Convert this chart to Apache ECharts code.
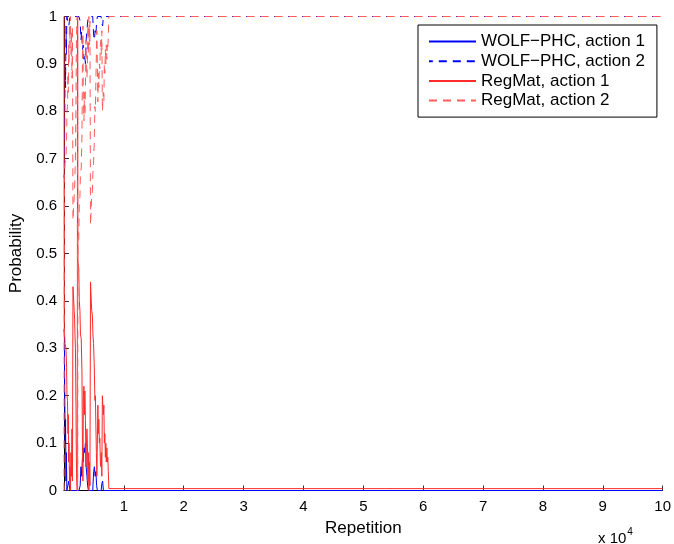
<!DOCTYPE html>
<html>
<head>
<meta charset="utf-8">
<script src="https://cdn.jsdelivr.net/npm/echarts@6/dist/echarts.min.js"></script>
<style>
html,body{margin:0;padding:0;background:#fff;}
#c{width:674px;height:544px;}
</style>
</head>
<body>
<div id="c"></div>
<script>
// x tick labels (×10^4)
var xTickLabels = ['', '1', '2', '3', '4', '5', '6', '7', '8', '9', '10'];
var seriesNames = ['WOLF\u2212PHC, action 1', 'WOLF\u2212PHC, action 2', 'RegMat, action 1', 'RegMat, action 2'];

// WOLF-PHC (repetition, probability)
var wolfX = [0,60,130,200,260,330,400,480,700,800,900,1000,2500,2700,2830,2950,3080,3200,3330,3450,3580,3700,3830,3950,4080,4800,4950,5080,5200,5330,5450,5580,6200,6330,6450,6580,100000];
var wolfA1 = [0.34,0.33,0.20,0.10,0.15,0.02,0.08,0.0,0.0,0.02,0.01,0.0,0.0,0.01,0.05,0.03,0.07,0.06,0.09,0.08,0.10,0.05,0.03,0.01,0.0,0.0,0.04,0.05,0.03,0.04,0.01,0.0,0.0,0.015,0.02,0.0,0.0];
var wolfA2 = [0.66,0.67,0.80,0.90,0.85,0.98,0.92,1.0,1.0,0.98,0.99,1.0,1.0,0.99,0.95,0.97,0.93,0.94,0.91,0.92,0.90,0.95,0.97,0.99,1.0,1.0,0.96,0.95,0.97,0.96,0.99,1.0,1.0,0.985,0.98,1.0,1.0];

// RegMat (repetition, probability)
var regX = [0,50,170,330,430,500,580,670,720,780,830,920,1000,1080,1160,1250,1330,1410,1500,1620,1700,1780,1830,1910,2000,2060,2130,2210,2280,2330,2460,2550,2660,2750,2880,3000,3080,3160,3240,3330,3410,3490,3580,3660,3740,3830,3910,3990,4080,4160,4240,4330,4430,4540,4620,4740,4830,4940,5040,5160,5240,5320,5410,5490,5570,5660,5740,5820,5910,5990,6070,6160,6240,6320,6410,6490,6570,6660,6740,6820,6910,6990,7070,7160,7240,7320,7400,7500,100000];
var regA1 = [1.0,0.34,0.31,0.30,0.26,0.20,0.19,0.12,0.16,0.06,0.10,0.02,0.05,0.0,0.08,0.03,0.13,0.02,0.43,0.43,0.38,0.36,0.33,0.30,0.18,0.07,0.02,0.0,1.0,0.48,0.47,0.40,0.38,0.33,0.32,0.25,0.10,0.02,0.20,0.22,0.16,0.21,0.15,0.05,0.09,0.13,0.10,0.02,0.08,0.0,0.06,0.01,0.44,0.44,0.38,0.37,0.33,0.31,0.27,0.19,0.20,0.14,0.08,0.03,0.10,0.18,0.12,0.15,0.10,0.11,0.06,0.05,0.08,0.03,0.20,0.20,0.16,0.18,0.10,0.12,0.07,0.10,0.06,0.09,0.06,0.07,0.04,0.004,0.004];
var regA2 = [0.0,0.66,0.69,0.70,0.74,0.80,0.81,0.88,0.84,0.94,0.90,0.98,0.95,1.0,0.92,0.97,0.87,0.98,0.57,0.57,0.62,0.64,0.67,0.70,0.82,0.93,0.98,1.0,0.0,0.52,0.53,0.60,0.62,0.67,0.68,0.75,0.90,0.98,0.80,0.78,0.84,0.79,0.85,0.95,0.91,0.87,0.90,0.98,0.92,1.0,0.94,0.99,0.56,0.56,0.62,0.63,0.67,0.69,0.73,0.81,0.80,0.86,0.92,0.97,0.90,0.82,0.88,0.85,0.90,0.89,0.94,0.95,0.92,0.97,0.80,0.80,0.84,0.82,0.90,0.88,0.93,0.90,0.94,0.91,0.94,0.93,0.96,1.0,1.0];

function pairs(xs, ys) {
  var out = [];
  for (var i = 0; i < xs.length; i++) out.push([xs[i], ys[i]]);
  return out;
}

var FONT = '"Liberation Sans", Arial, Helvetica, sans-serif';
var DASH = [8, 6];
var chart = echarts.init(document.getElementById('c'), null, {renderer: 'canvas'});

function lineSeries(name, data, color, dashed) {
  return {
    name: name,
    type: 'line',
    data: data,
    showSymbol: false,
    symbol: 'none',
    animation: false,
    clip: true,
    lineStyle: {color: color, width: 1, type: dashed ? DASH : 'solid', dashOffset: 0},
    itemStyle: {color: color}
  };
}

chart.setOption({
  animation: false,
  backgroundColor: '#ffffff',
  grid: {left: 64, right: 9, top: 16.5, bottom: 53.5, containLabel: false},
  legend: {
    orient: 'vertical',
    left: 418,
    top: 25,
    padding: [8, 12, 8, 10],
    itemWidth: 47,
    itemHeight: 17,
    itemGap: 2.7,
    itemTextGap: 4,
    itemStyle: {opacity: 0},
    backgroundColor: '#ffffff',
    borderColor: '#000000',
    borderWidth: 1,
    textStyle: {color: '#000', fontSize: 17, fontFamily: FONT},
    data: seriesNames.map(function (n) { return {name: n}; })
  },
  xAxis: {
    type: 'value',
    min: 0,
    max: 100000,
    interval: 10000,
    name: 'Repetition',
    nameLocation: 'middle',
    nameGap: 27,
    nameTextStyle: {color: '#000', fontSize: 17, fontFamily: FONT},
    axisLine: {show: true, onZero: false, lineStyle: {color: '#000', width: 1}},
    axisTick: {show: true, inside: true, length: 5, lineStyle: {color: '#333'}},
    axisLabel: {
      color: '#000', fontSize: 15, fontFamily: FONT, margin: 9,
      formatter: function (v) { return xTickLabels[Math.round(v / 10000)]; }
    },
    splitLine: {show: false}
  },
  yAxis: {
    type: 'value',
    min: 0,
    max: 1,
    interval: 0.1,
    name: 'Probability',
    nameLocation: 'middle',
    nameGap: 38,
    nameRotate: 90,
    nameTextStyle: {color: '#000', fontSize: 17, fontFamily: FONT},
    axisLine: {show: true, lineStyle: {color: '#000', width: 1}},
    axisTick: {show: true, inside: true, length: 5, lineStyle: {color: '#333'}},
    axisLabel: {color: '#000', fontSize: 15, fontFamily: FONT, margin: 7},
    splitLine: {show: false}
  },
  graphic: [{
    type: 'text',
    left: 598,
    top: 527,
    style: {
      text: '{a|x 10}{b|4}',
      rich: {
        a: {fontSize: 15, fontFamily: FONT, fill: '#000', verticalAlign: 'bottom'},
        b: {fontSize: 10, fontFamily: FONT, fill: '#000', verticalAlign: 'top', padding: [0, 0, 9, 1]}
      }
    }
  }],
  series: [
    lineSeries(seriesNames[0], pairs(wolfX, wolfA1), '#0000ff', false),
    lineSeries(seriesNames[1], pairs(wolfX, wolfA2), '#0000ff', true),
    lineSeries(seriesNames[2], pairs(regX, regA1), '#ff2a2a', false),
    lineSeries(seriesNames[3], pairs(regX, regA2), '#ff5c5c', true)
  ]
});

// Align the dash phase of the two "action 2" lines along the shared top segment,
// so the RegMat dashes sit exactly over the WOLF-PHC dashes there.
function pathLengthUpTo(xs, ys, xStop) {
  var len = 0, prev = null;
  for (var i = 0; i < xs.length; i++) {
    var x = Math.min(xs[i], xStop);
    var y = ys[i];
    if (xs[i] > xStop) {
      var t = (xStop - xs[i - 1]) / (xs[i] - xs[i - 1]);
      y = ys[i - 1] + t * (ys[i] - ys[i - 1]);
    }
    var p = chart.convertToPixel({gridIndex: 0}, [x, y]);
    if (prev) len += Math.sqrt((p[0] - prev[0]) * (p[0] - prev[0]) + (p[1] - prev[1]) * (p[1] - prev[1]));
    prev = p;
    if (xs[i] >= xStop) break;
  }
  return len;
}
var xJoin = regX[regX.length - 2];
var lr = pathLengthUpTo(regX, regA2, xJoin);
var lb = pathLengthUpTo(wolfX, wolfA2, xJoin);
chart.setOption({
  series: [{}, {lineStyle: {dashOffset: lr - lb}}, {}, {}]
});
</script>
</body>
</html>
